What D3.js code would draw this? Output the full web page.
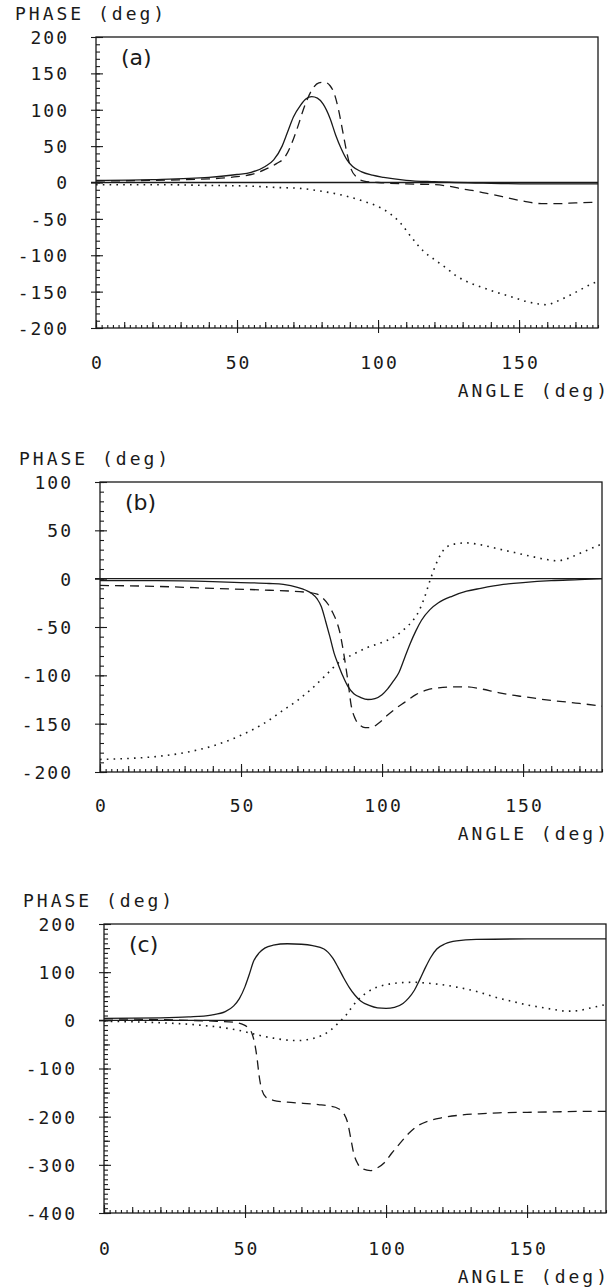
<!DOCTYPE html>
<html>
<head>
<meta charset="utf-8">
<script src="https://cdn.jsdelivr.net/npm/d3@7"></script>
<style>
  body { margin: 0; background: #fff; }
  svg { display: block; }
</style>
</head>
<body>
<div id="chart"></div>
<script>
// tick labels
const xTicks = [0, 50, 100, 150];
const abYTicks = [200, 150, 100, 50, 0, -50, -100, -150, -200];
const bYTicks = [100, 50, 0, -50, -100, -150, -200];
const cYTicks = [200, 100, 0, -100, -200, -300, -400];

// panel (a)
const aSolidAngle = [0, 20, 40, 50, 55, 60, 63, 66, 68, 70, 72.5, 74.5, 76.5, 78.5, 80.5, 83, 85, 87, 89, 91, 94, 98, 102, 110, 120, 140, 160, 178];
const aSolidPhase = [3, 4, 7, 11, 14, 22, 31, 50, 70, 90, 106, 115, 118, 116, 108, 88, 65, 46, 31, 22, 15, 10, 7, 3, 1, -1, -2, -2];
const aDashAngle = [0, 20, 40, 50, 55, 60, 64, 67, 69, 70.5, 72, 73.5, 75, 77, 79, 81, 83, 84.5, 86, 87.5, 89, 90.5, 92.5, 95, 100, 110, 120, 125, 130, 135, 140, 146, 152, 158, 164, 170, 178];
const aDashPhase = [2, 3, 5, 8, 11, 18, 26, 35, 50, 65, 82, 100, 115, 130, 137, 138, 133, 122, 100, 70, 40, 18, 7, 2, 0, -2, -3, -5, -9, -12, -16, -21, -26, -29, -29, -28, -27];
const aDotAngle = [0, 20, 40, 55, 65, 72, 80, 88, 95, 100, 104, 108, 112, 116, 120, 124, 128, 132, 136, 142, 148, 153, 157, 160, 163, 167, 171, 176, 178];
const aDotPhase = [-3, -3, -4, -5, -7, -8, -12, -18, -26, -33, -42, -56, -76, -94, -106, -117, -129, -137, -143, -151, -158, -164, -167, -168, -164, -157, -149, -139, -136];

// panel (b)
const bSolidAngle = [0, 20, 40, 50, 60, 65, 70, 73, 75, 77, 78.5, 80, 81.5, 83, 84.5, 86, 88, 90, 92.5, 95, 97.5, 100, 102, 104, 106, 108, 110, 112, 114, 117, 120, 125, 130, 135, 143, 150, 160, 170, 178];
const bSolidPhase = [-2, -2, -3, -4, -5, -6, -9, -12, -15, -21, -29, -44, -60, -77, -89, -100, -112, -119, -123, -125, -124, -120, -114, -106, -97, -82, -67, -54, -43, -32, -25, -18, -13, -10, -6, -4, -2, -1, 0];
const bDashAngle = [0, 20, 40, 60, 73, 77, 79, 81, 82.5, 84, 85, 86, 87, 88, 89, 90.5, 92, 94, 96, 99, 102, 105, 108, 112, 116, 120, 125, 130, 135, 140, 145, 150, 160, 170, 178];
const bDashPhase = [-7, -8, -10, -12, -14, -16, -20, -27, -35, -45, -55, -70, -88, -108, -130, -145, -151, -154, -154, -149, -141, -134, -128, -120, -115, -113, -112, -112, -114, -117, -120, -122, -126, -129, -132];
const bDotAngle = [0, 10, 20, 30, 40, 50, 58, 65, 70, 75, 80, 85, 90, 95, 100, 105, 108, 111, 113, 115, 117, 119, 121, 123, 126, 130, 135, 141, 147, 153, 158, 162, 166, 170, 174, 178];
const bDotPhase = [-187, -186, -184, -180, -173, -162, -150, -136, -126, -114, -100, -86, -78, -71, -66, -59, -52, -43, -34, -20, -2, 14, 26, 33, 36, 37, 35, 31, 27, 23, 20, 18.5, 21, 26, 31, 36];

// panel (c)
const cSolidAngle = [0, 20, 30, 38, 43, 46, 48, 50, 51.5, 53, 55, 57, 60, 65, 70, 74, 78, 81, 83, 85, 87, 89, 91, 94, 97, 100, 103, 106, 108, 110, 112, 114, 116, 118, 121, 125, 132, 150, 178];
const cSolidPhase = [4, 5, 7, 11, 18, 30, 45, 70, 95, 122, 140, 150, 156, 159, 158, 155, 148, 130, 110, 88, 68, 52, 40, 31, 26, 25, 27, 35, 46, 62, 85, 110, 132, 148, 159, 165, 168, 169, 169];
const cDashAngle = [0, 15, 30, 40, 46, 49, 51, 52.5, 53.5, 54.3, 55, 56, 57.5, 60, 65, 70, 76, 80, 83, 85, 86.5, 87.5, 88.5, 90, 92, 94.5, 97, 99.5, 102, 105, 108, 111, 115, 120, 126, 133, 140, 150, 160, 170, 178];
const cDashPhase = [3, 2, 0, -2, -4, -8, -15, -28, -50, -80, -115, -145, -160, -166, -170, -172, -175, -178, -183, -193, -215, -245, -275, -298, -309, -312, -306, -295, -276, -255, -235, -220, -209, -202, -197, -194, -192, -191, -190, -189, -189];
const cDotAngle = [0, 20, 34, 42, 48, 55, 60, 65, 69, 73, 77, 80, 83, 86, 88, 90, 93, 96, 100, 105, 110, 115, 120, 125, 130, 135, 140, 145, 150, 155, 160, 164, 168, 172, 178];
const cDotPhase = [-2, -5, -10, -15, -21, -31, -37, -41, -42, -39, -32, -22, -6, 12, 28, 42, 57, 67, 74, 78, 79, 77, 74, 69, 63, 55, 46, 39, 32, 27, 22, 19, 20, 25, 33];

const W = 616, H = 1287;
const ink = "#1a1a1a";
const mono = "DejaVu Sans Mono, monospace";

const svg = d3.select("#chart").append("svg")
    .attr("width", W)
    .attr("height", H)
    .attr("viewBox", [0, 0, W, H]);

svg.append("rect").attr("width", W).attr("height", H).attr("fill", "#fff");

const zip = (a, p) => a.map((d, i) => [d, p[i]]);

const panels = [
    {
        tag: "(a)", left: 96, right: 598, top: 37, bottom: 328,
        yDomain: [-200, 200], yTicks: abYTicks, yMid: [],
        labelGap: 35,
        series: [zip(aSolidAngle, aSolidPhase), zip(aDashAngle, aDashPhase), zip(aDotAngle, aDotPhase)]
    },
    {
        tag: "(b)", left: 100, right: 602, top: 482, bottom: 772,
        yDomain: [-200, 100], yTicks: bYTicks, yMid: [],
        labelGap: 34,
        series: [zip(bSolidAngle, bSolidPhase), zip(bDashAngle, bDashPhase), zip(bDotAngle, bDotPhase)]
    },
    {
        tag: "(c)", left: 104, right: 606, top: 924, bottom: 1213,
        yDomain: [-400, 200], yTicks: cYTicks, yMid: [150, 50, -50, -150, -250, -350],
        labelGap: 36,
        series: [zip(cSolidAngle, cSolidPhase), zip(cDashAngle, cDashPhase), zip(cDotAngle, cDotPhase)]
    }
];

const styles = [
    { dash: null, width: 1.3 },
    { dash: "9,6", width: 1.3 },
    { dash: "1.6,5.2", width: 1.6 }
];

function styleText(sel, size, spacing) {
    sel.attr("font-family", mono)
        .attr("font-size", size)
        .attr("letter-spacing", spacing)
        .attr("fill", ink);
}

panels.forEach(p => {
    const x = d3.scaleLinear([0, 178], [p.left, p.right]);
    const y = d3.scaleLinear(p.yDomain, [p.bottom, p.top]);
    const g = svg.append("g");

    // frame
    g.append("rect")
        .attr("x", p.left).attr("y", p.top)
        .attr("width", p.right - p.left).attr("height", p.bottom - p.top)
        .attr("fill", "none").attr("stroke", ink).attr("stroke-width", 1.3);

    // y ticks: minor every 10 inside, mid, major crossing the axis
    const [y0, y1] = p.yDomain;
    const tickAxis = (axis, tx, ty) => g.append("g")
        .attr("transform", `translate(${tx},${ty})`)
        .call(axis)
        .call(s => s.select(".domain").remove())
        .call(s => s.selectAll("line").attr("stroke", ink).attr("stroke-width", 1.1));

    tickAxis(d3.axisRight(y).tickValues(d3.range(y0, y1 + 1, 10)).tickSize(4).tickFormat(""), p.left, 0);
    tickAxis(d3.axisRight(y).tickValues(p.yMid).tickSize(6).tickFormat(""), p.left, 0);
    tickAxis(d3.axisRight(y).tickValues(p.yTicks).tickSize(7).tickFormat(""), p.left, 0);
    tickAxis(d3.axisLeft(y).tickValues(p.yTicks).tickSize(5).tickFormat(""), p.left, 0);

    // x ticks: every 2, every 10, majors every 50
    tickAxis(d3.axisTop(x).tickValues(d3.range(0, 179, 2)).tickSize(3).tickFormat(""), 0, p.bottom);
    tickAxis(d3.axisTop(x).tickValues(d3.range(0, 179, 10)).tickSize(6).tickFormat(""), 0, p.bottom);
    tickAxis(d3.axisTop(x).tickValues(xTicks).tickSize(8).tickFormat(""), 0, p.bottom);
    tickAxis(d3.axisBottom(x).tickValues(xTicks.slice(1)).tickSize(5).tickFormat(""), 0, p.bottom);

    // y labels
    g.append("g")
        .attr("transform", `translate(${p.left},0)`)
        .call(d3.axisLeft(y).tickValues(p.yTicks).tickSize(0).tickPadding(27).tickFormat(d => d))
        .call(s => s.select(".domain").remove())
        .call(s => s.selectAll("text").call(styleText, 18, 2).attr("dy", "0.36em"));

    // x labels
    g.append("g")
        .attr("transform", `translate(0,${p.bottom})`)
        .call(d3.axisBottom(x).tickValues(xTicks).tickSize(0).tickPadding(p.labelGap - 7).tickFormat(d => d))
        .call(s => s.select(".domain").remove())
        .call(s => s.selectAll("text").call(styleText, 18, 2).attr("dx", 1));

    // zero line
    g.append("line")
        .attr("x1", p.left - 5).attr("x2", p.right)
        .attr("y1", y(0)).attr("y2", y(0))
        .attr("stroke", ink).attr("stroke-width", 1.3);

    // curves
    const line = d3.line()
        .x(d => x(d[0]))
        .y(d => y(d[1]))
        .curve(d3.curveMonotoneX);

    p.series.forEach((s, i) => {
        g.append("path")
            .datum(s)
            .attr("fill", "none")
            .attr("stroke", ink)
            .attr("stroke-width", styles[i].width)
            .attr("stroke-dasharray", styles[i].dash)
            .attr("d", line);
    });

    // axis titles and panel tag
    g.append("text")
        .attr("x", p.left - 81).attr("y", p.top - 23)
        .attr("dy", "0.36em")
        .text("PHASE (deg)")
        .call(styleText, 18, 3);

    g.append("text")
        .attr("x", 610).attr("y", p.bottom + p.labelGap + 28)
        .attr("dy", "0.36em")
        .attr("text-anchor", "end")
        .text("ANGLE (deg)")
        .call(styleText, 18, 3);

    g.append("text")
        .attr("x", p.left + 25).attr("y", p.top + 20)
        .attr("dy", "0.36em")
        .attr("font-family", "DejaVu Sans, sans-serif")
        .attr("font-size", 22)
        .attr("fill", ink)
        .text(p.tag);
});
</script>
</body>
</html>
